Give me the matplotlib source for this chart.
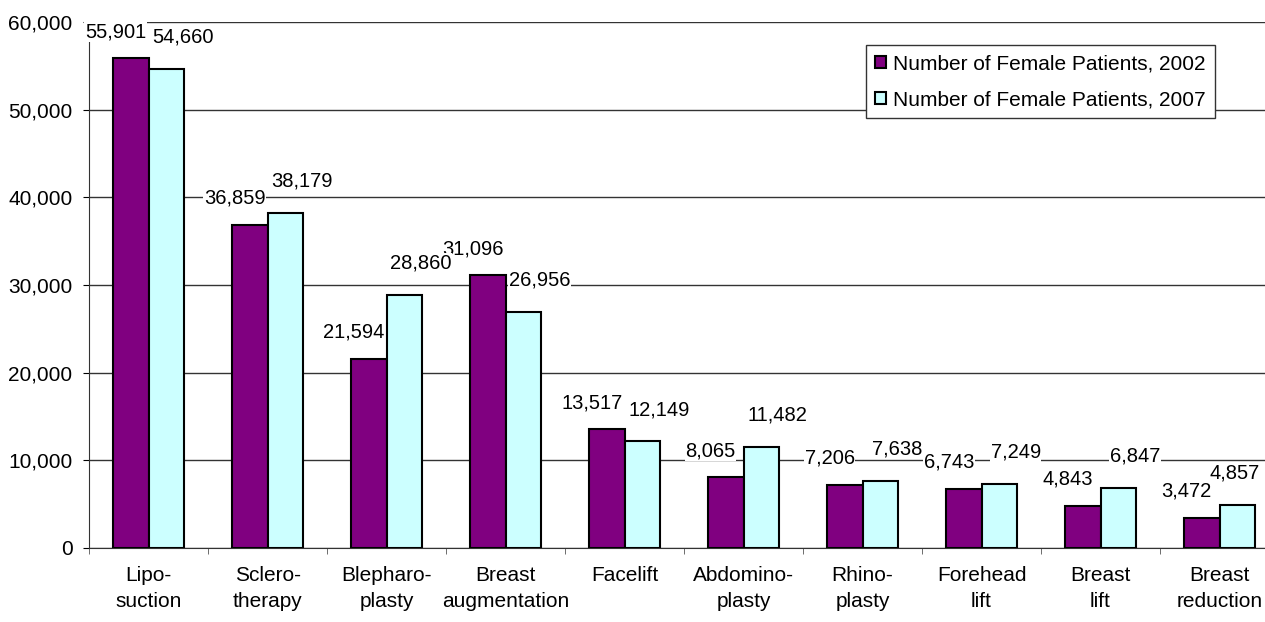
import matplotlib.pyplot as plt
import numpy as np

plt.rcParams['font.family'] = ['Liberation Sans', 'DejaVu Sans']

categories = ['Lipo-\nsuction', 'Sclero-\ntherapy', 'Blepharo-\nplasty', 'Breast\naugmentation',
              'Facelift', 'Abdomino-\nplasty', 'Rhino-\nplasty', 'Forehead\nlift',
              'Breast\nlift', 'Breast\nreduction']
female_2002 = [55901, 36859, 21594, 31096, 13517, 8065, 7206, 6743, 4843, 3472]
female_2007 = [54660, 38179, 28860, 26956, 12149, 11482, 7638, 7249, 6847, 4857]

x = np.arange(len(categories))
w = 0.295

fig = plt.figure(figsize=(12.65, 6.22), dpi=100)
# plot area runs a little past the right edge, as in the original
ax = fig.add_axes([0.0704, 0.119, 0.9407, 0.8457])

b1 = ax.bar(x - w/2, female_2002, w, color='#800080', edgecolor='black', linewidth=1.5,
            label='Number of Female Patients, 2002', zorder=3)
b2 = ax.bar(x + w/2, female_2007, w, color='#CCFFFF', edgecolor='black', linewidth=1.5,
            label='Number of Female Patients, 2007', zorder=3)

labels = []
for bars, dx, dy in ((b1, -11, 19), (b2, 12, 23)):
    for b in bars:
        h = b.get_height()
        t = ax.annotate(f'{h:,.0f}', (b.get_x() + b.get_width()/2, h), xytext=(dx, dy),
                        textcoords='offset points', ha='center', va='center', fontsize=14.5,
                        bbox=dict(facecolor='white', edgecolor='none', pad=0.5), zorder=4)
        labels.append(t)

ax.set_xlim(-0.5, len(categories) - 0.5)
ax.set_ylim(0, 60000)
ax.set_yticks(range(0, 60001, 10000))
ax.set_yticklabels([f'{v:,}' for v in range(0, 60001, 10000)], fontsize=15)
ax.yaxis.grid(True, color='#333333', linewidth=1.0, zorder=0)

ax.set_xticks(x)
ax.set_xticklabels(categories, fontsize=15, linespacing=1.45)
ax.tick_params(axis='x', length=0, pad=13)
ax.set_xticks(np.arange(-0.5, len(categories)), minor=True)
ax.tick_params(axis='x', which='minor', length=4, direction='out', color='#555555')
ax.tick_params(axis='y', length=4, direction='out', pad=8)

for s in ['top', 'right']:
    ax.spines[s].set_visible(False)
ax.spines['left'].set_color('#333333')
ax.spines['bottom'].set_color('#333333')

leg = ax.legend(loc='upper right', bbox_to_anchor=(0.9605, 0.9277), bbox_transform=fig.transFigure,
                fontsize=15, frameon=True, fancybox=False, edgecolor='#333333',
                handlelength=0.5, handleheight=0.5, handletextpad=0.35, labelspacing=0.8,
                borderpad=0.45, borderaxespad=0, framealpha=1)
leg.get_frame().set_linewidth(1.0)
for hnd in leg.legend_handles:
    hnd.set_linewidth(1.5)

# pull any label that would run off the right edge back inside
fig.canvas.draw()
for t in labels:
    over = t.get_window_extent().x1 - (fig.bbox.width - 5)
    if over > 0:
        dx, dy = t.xyann
        t.xyann = (dx - over * 72 / fig.dpi, dy)

fig.savefig('out.png', dpi=100)
